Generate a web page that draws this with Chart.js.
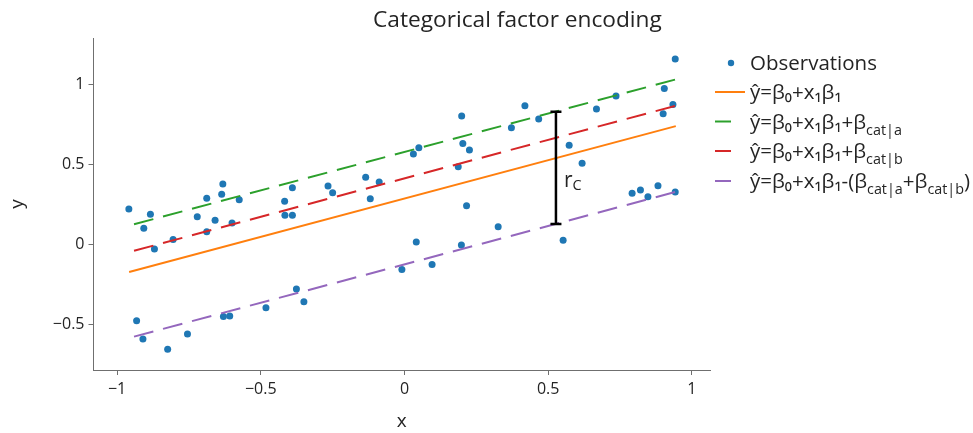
<!DOCTYPE html>
<html>
<head>
<meta charset="utf-8">
<script src="https://cdn.jsdelivr.net/npm/chart.js@4.4.1/dist/chart.umd.min.js"></script>
<style>
  html, body { margin: 0; padding: 0; background: #fff; }
  #wrap { width: 973px; height: 433px; }
</style>
</head>
<body>
<div id="wrap"><canvas id="chart" width="973" height="433"></canvas></div>
<script>
// observations
const obsX = [-0.959, -0.884, -0.907, -0.870, -0.805, -0.721, -0.688, -0.688, -0.659, -0.636, -0.632, -0.600, -0.575, -0.417, -0.390, -0.416, -0.390,
  -0.932, -0.910, -0.824, -0.755, -0.630, -0.608, -0.482, -0.376, -0.350,
  -0.266, -0.250, -0.135, -0.119, -0.088, 0.031, 0.050, 0.203, 0.226, 0.187, 0.216, 0.326, 0.041, 0.198, -0.009, 0.096,
  0.199, 0.419, 0.372, 0.467, 0.668, 0.736, 0.904, 0.942, 0.934, 0.900, 0.573, 0.618, 0.792, 0.821, 0.847, 0.882, 0.942,
  0.552];
const obsY = [0.221, 0.188, 0.101, -0.028, 0.032, 0.173, 0.288, 0.080, 0.151, 0.313, 0.377, 0.134, 0.279, 0.269, 0.354, 0.182, 0.182,
  -0.475, -0.589, -0.653, -0.558, -0.448, -0.445, -0.394, -0.277, -0.356,
  0.364, 0.323, 0.419, 0.285, 0.389, 0.564, 0.603, 0.630, 0.589, 0.485, 0.242, 0.111, 0.016, -0.003, -0.155, -0.124,
  0.801, 0.865, 0.728, 0.782, 0.844, 0.925, 0.973, 1.156, 0.873, 0.815, 0.618, 0.506, 0.319, 0.340, 0.298, 0.367, 0.327,
  0.026];

// fitted lines (end points)
const baseX = [-0.958, 0.944];
const catX = [-0.941, 0.944];
const baseY = [-0.171, 0.738];
const catAY = [0.126, 1.029];
const catBY = [-0.039, 0.865];
const bothY = [-0.574, 0.328];

// residual bar r_C
const rcX = [0.527, 0.527];
const rcY = [0.128, 0.827];

const xTicks = [-1, -0.5, 0, 0.5, 1];
const yTicks = [-0.5, 0, 0.5, 1];

const legendLabels = [
  "Observations",
  "ŷ=β₀+x₁β₁",
  "ŷ=β₀+x₁β₁+β_{cat|a}",
  "ŷ=β₀+x₁β₁+β_{cat|b}",
  "ŷ=β₀+x₁β₁-(β_{cat|a}+β_{cat|b})"
];
const chartTitle = "Categorical factor encoding";

const FONT = '"Open Sans", sans-serif';
const TEXT = "rgb(36,36,36)";
const AXIS = "#6f6f6f";
const colors = ["#1f77b4", "#ff7f0e", "#2ca02c", "#d62728", "#9467bd"];

const pts = (xs, ys) => xs.map((x, i) => ({ x: x, y: ys[i] }));
const fmt = v => (v < 0 ? "\u2212" + Math.abs(v) : String(v));

function drawRich(ctx, str, x, base, size) {
  const parts = str.split(/(_\{[^}]*\})/).filter(Boolean);
  parts.forEach(p => {
    if (p.startsWith("_{")) {
      const t = p.slice(2, -1);
      ctx.font = (size * 0.7) + "px " + FONT;
      ctx.fillText(t, x, base + size * 0.3);
      x += ctx.measureText(t).width;
    } else {
      ctx.font = size + "px " + FONT;
      ctx.fillText(p, x, base);
      x += ctx.measureText(p).width;
    }
  });
}

const extras = {
  id: "extras",
  afterDraw(chart) {
    const { ctx, scales } = chart;
    ctx.save();
    ctx.fillStyle = TEXT;
    ctx.textBaseline = "alphabetic";
    ctx.textAlign = "left";

    // title
    ctx.font = "22.7px " + FONT;
    ctx.fillText(chartTitle, 373, 27);

    // r_C label
    const lx = scales.x.getPixelForValue(rcX[0]) + 8;
    const ly = scales.y.getPixelForValue((rcY[0] + rcY[1]) / 2) + 19;
    ctx.font = "21px " + FONT;
    ctx.fillText("r", lx, ly);
    const rw = ctx.measureText("r").width;
    ctx.font = "14.5px " + FONT;
    ctx.fillText("C", lx + rw, ly + 3.5);

    // legend
    const rows = [63, 92, 121.5, 151, 181];
    rows.forEach((ry, i) => {
      if (i === 0) {
        ctx.beginPath();
        ctx.fillStyle = colors[0];
        ctx.arc(731, ry, 3.2, 0, Math.PI * 2);
        ctx.fill();
      } else {
        ctx.beginPath();
        ctx.strokeStyle = colors[i];
        ctx.lineWidth = 2;
        ctx.moveTo(715, ry);
        ctx.lineTo(i === 1 ? 745 : 731, ry);
        ctx.stroke();
      }
      ctx.fillStyle = TEXT;
      drawRich(ctx, legendLabels[i], 750, ry + 7, 20.5);
    });
    ctx.restore();
  }
};

const lineDs = (label, xs, ys, color, dashed) => ({
  type: "line",
  label: label,
  data: pts(xs, ys),
  borderColor: color,
  borderWidth: 2,
  borderDash: dashed ? [20, 10] : [],
  borderCapStyle: "butt",
  pointRadius: 0,
  fill: false,
  tension: 0,
  order: 1
});

new Chart(document.getElementById("chart"), {
  type: "scatter",
  data: {
    datasets: [
      {
        label: legendLabels[0],
        data: pts(obsX, obsY),
        backgroundColor: colors[0],
        borderWidth: 0,
        pointRadius: 3.5,
        order: 3
      },
      lineDs(legendLabels[1], baseX, baseY, colors[1], false),
      lineDs(legendLabels[2], catX, catAY, colors[2], true),
      lineDs(legendLabels[3], catX, catBY, colors[3], true),
      lineDs(legendLabels[4], catX, bothY, colors[4], true),
      {
        type: "line",
        label: "r_C",
        data: pts(rcX, rcY),
        borderColor: "#000",
        borderWidth: 2.5,
        pointStyle: "line",
        pointRadius: 5.5,
        pointBorderWidth: 2.5,
        pointBorderColor: "#000",
        fill: false,
        order: 0
      }
    ]
  },
  options: {
    responsive: false,
    devicePixelRatio: 1,
    animation: false,
    layout: { padding: { top: 38, right: 263, left: 0, bottom: 0 } },
    plugins: {
      legend: { display: false },
      title: { display: false },
      tooltip: { enabled: false }
    },
    scales: {
      x: {
        type: "linear",
        min: -1.082,
        max: 1.063,
        afterBuildTicks: s => { s.ticks = xTicks.map(v => ({ value: v })); },
        afterFit: s => { s.height = 63; },
        grid: { drawOnChartArea: false, color: AXIS, tickLength: 5 },
        border: { display: true, color: AXIS },
        ticks: {
          color: TEXT, padding: 5, maxRotation: 0, autoSkip: false,
          font: { family: FONT, size: 16 },
          callback: v => fmt(v)
        },
        title: { display: true, text: "x", color: TEXT, padding: 0, font: { family: FONT, size: 19 } }
      },
      y: {
        type: "linear",
        min: -0.782,
        max: 1.287,
        afterBuildTicks: s => { s.ticks = yTicks.map(v => ({ value: v })); },
        afterFit: s => { s.width = 93.5; },
        grid: { drawOnChartArea: false, color: AXIS, tickLength: 5 },
        border: { display: true, color: AXIS },
        ticks: {
          color: TEXT, padding: 4, autoSkip: false,
          font: { family: FONT, size: 16 },
          callback: v => fmt(v)
        },
        title: { display: true, text: "y", color: TEXT, padding: { top: 6, bottom: 0 }, font: { family: FONT, size: 19 } }
      }
    }
  },
  plugins: [extras]
});
</script>
</body>
</html>
